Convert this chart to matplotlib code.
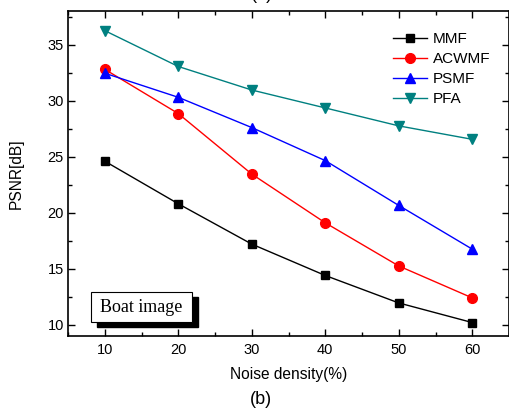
import matplotlib
matplotlib.use("Agg")
import matplotlib.pyplot as plt
from matplotlib.ticker import MultipleLocator
from matplotlib.patches import Rectangle

plt.rcParams['font.family'] = ['Liberation Sans', 'DejaVu Sans']

noise = [10, 20, 30, 40, 50, 60]
mmf = [24.6, 20.8, 17.2, 14.4, 11.95, 10.2]
acwmf = [32.8, 28.85, 23.45, 19.1, 15.25, 12.4]
psmf = [32.45, 30.3, 27.6, 24.65, 20.65, 16.75]
pfa = [36.25, 33.05, 30.95, 29.35, 27.75, 26.55]

fig = plt.figure(figsize=(5.09, 4.12), dpi=100)
ax = fig.add_axes([68 / 509, 1 - 336 / 412, 441 / 509, 325 / 412])

ax.plot(noise, mmf, '-s', color='black', lw=1, ms=6, label='MMF')
ax.plot(noise, acwmf, '-o', color='red', lw=1, ms=7, label='ACWMF')
ax.plot(noise, psmf, '-^', color='blue', lw=1, ms=7.5, label='PSMF')
ax.plot(noise, pfa, '-v', color='#008080', lw=1, ms=7.5, label='PFA')

ax.set_xlim(5, 65)
ax.set_ylim(9, 38)
ax.xaxis.set_major_locator(MultipleLocator(10))
ax.xaxis.set_minor_locator(MultipleLocator(5))
ax.yaxis.set_major_locator(MultipleLocator(5))
ax.yaxis.set_minor_locator(MultipleLocator(2.5))
ax.tick_params(which='both', direction='in', top=True, right=True, labelsize=10.5, width=1)
ax.tick_params(which='major', length=5)
ax.tick_params(which='minor', length=3)
ax.tick_params(axis='x', which='major', pad=5)
ax.tick_params(axis='y', which='major', pad=3)
for s in ax.spines.values():
    s.set_linewidth(1.2)

ax.set_xlabel('Noise density(%)', fontsize=11.2, labelpad=7)
ax.set_ylabel('PSNR[dB]', fontsize=11.2, labelpad=17)

ax.legend(loc='upper left', bbox_to_anchor=(0.737, 0.934), frameon=False, fontsize=11,
          handlelength=2.2, handletextpad=0.4, labelspacing=0.38, borderaxespad=0, borderpad=0)

# text box with drop shadow
bx, by, bw, bh = 91, 292, 101, 30
shadow = Rectangle(((bx + 6) / 509, 1 - (by + bh + 5) / 412), bw / 509, bh / 412,
                   transform=fig.transFigure, facecolor='black', edgecolor='black', zorder=5)
box = Rectangle((bx / 509, 1 - (by + bh) / 412), bw / 509, bh / 412,
                transform=fig.transFigure, facecolor='white', edgecolor='black', lw=0.8, zorder=6)
fig.patches.extend([shadow, box])
fig.text((bx + bw / 2) / 509, 1 - (by + bh / 2) / 412, 'Boat image', family='Liberation Serif',
         fontsize=13, ha='center', va='center', zorder=7)

fig.text(261 / 509, 1 - 400 / 412, '(b)', fontsize=13, ha='center', va='center')
fig.text(262 / 509, 1 + 5 / 412, '(a)', fontsize=13, ha='center', va='center')

fig.savefig('out.png', dpi=100)
